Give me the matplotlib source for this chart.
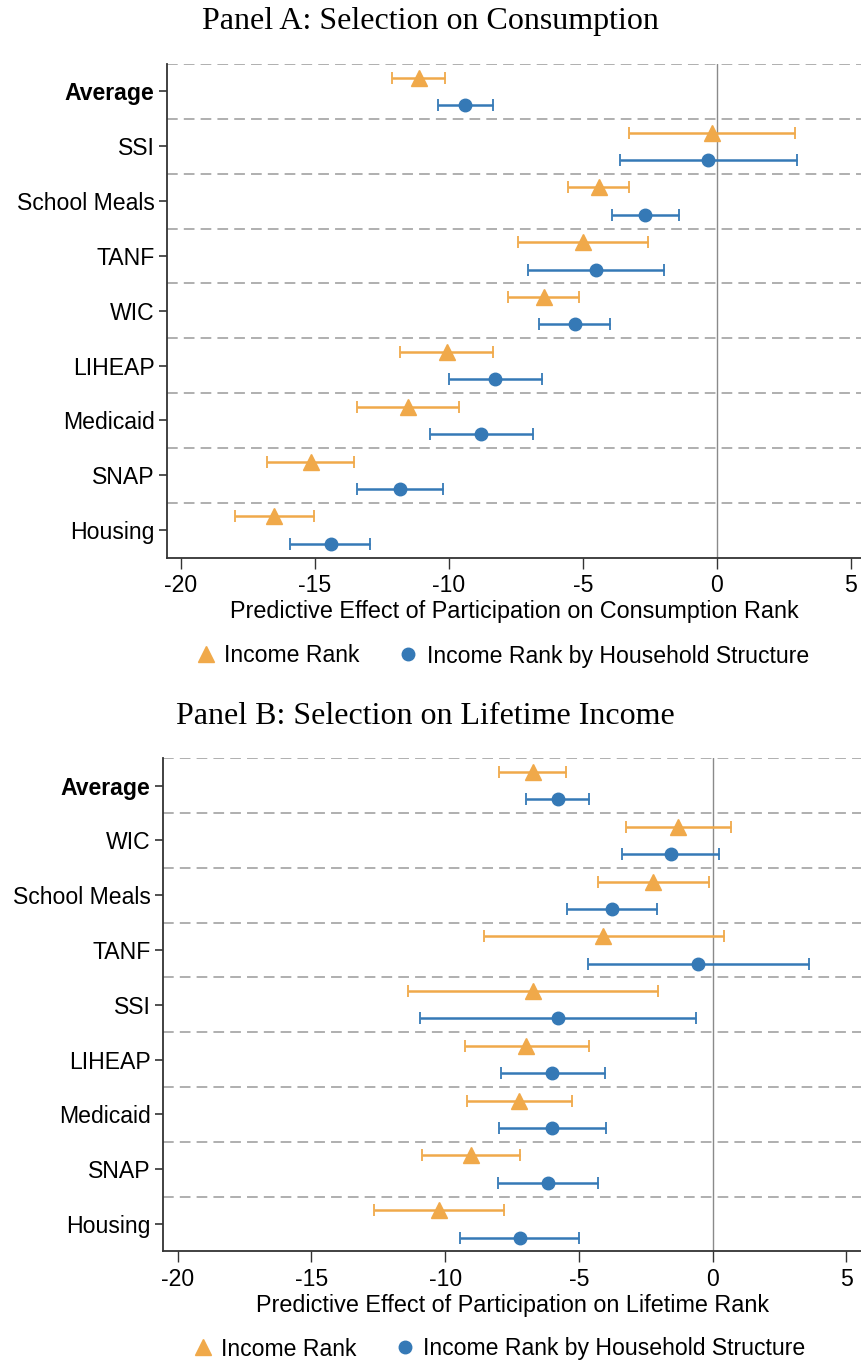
import matplotlib.pyplot as plt
from matplotlib.lines import Line2D
import numpy as np

plt.rcParams['font.family'] = ['Liberation Sans', 'DejaVu Sans']

ORANGE = '#F0A94A'
BLUE = '#3579B6'

# Panel A: selection on consumption (top to bottom)
cats_A = ['Average', 'SSI', 'School Meals', 'TANF', 'WIC', 'LIHEAP', 'Medicaid', 'SNAP', 'Housing']
inc_est_A = [-11.12, -0.18, -4.41, -5.01, -6.46, -10.07, -11.52, -15.15, -16.52]
inc_lo_A = [-12.13, -3.29, -5.54, -7.41, -7.81, -11.81, -13.42, -16.79, -17.99]
inc_hi_A = [-10.16, 2.90, -3.28, -2.59, -5.13, -8.34, -9.61, -13.54, -15.05]
hh_est_A = [-9.39, -0.33, -2.68, -4.51, -5.31, -8.27, -8.79, -11.82, -14.39]
hh_lo_A = [-10.41, -3.63, -3.93, -7.04, -6.64, -9.99, -10.71, -13.44, -15.93]
hh_hi_A = [-8.37, 2.97, -1.41, -1.96, -3.98, -6.53, -6.86, -10.21, -12.94]

# Panel B: selection on lifetime income (top to bottom)
cats_B = ['Average', 'WIC', 'School Meals', 'TANF', 'SSI', 'LIHEAP', 'Medicaid', 'SNAP', 'Housing']
inc_est_B = [-6.72, -1.29, -2.23, -4.08, -6.72, -6.96, -7.22, -9.02, -10.24]
inc_lo_B = [-7.97, -3.25, -4.29, -8.56, -11.38, -9.24, -9.18, -10.85, -12.67]
inc_hi_B = [-5.47, 0.69, -0.13, 0.42, -2.05, -4.63, -5.27, -7.21, -7.81]
hh_est_B = [-5.79, -1.56, -3.77, -0.53, -5.77, -5.99, -6.00, -6.17, -7.21]
hh_lo_B = [-6.96, -3.37, -5.45, -4.67, -10.93, -7.92, -7.97, -8.03, -9.44]
hh_hi_B = [-4.62, 0.24, -2.08, 3.60, -0.63, -4.02, -4.00, -4.30, -5.00]

xticks = [-20, -15, -10, -5, 0, 5]
legend_labels = ['Income Rank', 'Income Rank by Household Structure']


def draw_panel(ax, cats, ie, il, ih, he, hl, hh, xlim, xlabel):
    n = len(cats)
    y = np.arange(n)[::-1].astype(float)
    ie, il, ih = map(np.array, (ie, il, ih))
    he, hl, hh = map(np.array, (he, hl, hh))

    # dashed separators between programs
    for g in np.arange(n) + 0.5:
        ax.axhline(g, color='#9a9a9a', lw=1.1, ls=(0, (7, 4)), zorder=1)
    ax.axvline(0, color='#8a8a8a', lw=1.0, zorder=1)

    ax.errorbar(ie, y + 0.25, xerr=[ie - il, ih - ie], fmt='^', color=ORANGE,
                ms=11.5, elinewidth=1.8, capsize=4, capthick=1.3, zorder=3)
    ax.errorbar(he, y - 0.25, xerr=[he - hl, hh - he], fmt='o', color=BLUE,
                ms=9, elinewidth=1.8, capsize=4, capthick=1.3, zorder=3)

    ax.set_ylim(-0.5, n - 0.5)
    ax.set_xlim(*xlim)
    ax.set_yticks(y)
    ax.set_yticklabels(cats, fontsize=16.6)
    ax.get_yticklabels()[0].set_fontweight('bold')
    ax.set_xticks(xticks)
    ax.set_xticklabels([str(t) for t in xticks], fontsize=16.6)
    ax.set_xlabel(xlabel, fontsize=16.8, labelpad=2)
    for s in ['top', 'right']:
        ax.spines[s].set_visible(False)
    for s in ['left', 'bottom']:
        ax.spines[s].set_color('#333333')
        ax.spines[s].set_linewidth(1.3)
    ax.tick_params(axis='y', length=6, width=1.2, color='#333333', pad=3)
    ax.tick_params(axis='x', length=8, width=1.0, color='#333333', pad=4)


def add_legend(fig, xcen, ycen):
    handles = [Line2D([], [], marker='^', ls='none', color=ORANGE, ms=11.5),
               Line2D([], [], marker='o', ls='none', color=BLUE, ms=9)]
    fig.legend(handles, legend_labels, loc='center', bbox_to_anchor=(xcen, ycen),
               ncol=2, frameon=False, fontsize=16.6, handletextpad=0.3,
               columnspacing=1.6, handlelength=1.0)


fig = plt.figure(figsize=(8.62, 13.64), dpi=100)

axA = fig.add_axes([0.1937, 0.5912, 0.8063, 0.3619])
draw_panel(axA, cats_A, inc_est_A, inc_lo_A, inc_hi_A, hh_est_A, hh_lo_A, hh_hi_A,
           (-20.52, 5.41), 'Predictive Effect of Participation on Consumption Rank')
fig.text(0.499, 1 - 21 / 1364, 'Panel A: Selection on Consumption', ha='center', va='center',
         fontsize=23, family=['Liberation Serif', 'DejaVu Serif'])
add_legend(fig, 0.582, 1 - 656 / 1364)

axB = fig.add_axes([0.1891, 0.0826, 0.8109, 0.3615])
draw_panel(axB, cats_B, inc_est_B, inc_lo_B, inc_hi_B, hh_est_B, hh_lo_B, hh_hi_B,
           (-20.55, 5.59), 'Predictive Effect of Participation on Lifetime Rank')
fig.text(0.493, 1 - 717 / 1364, 'Panel B: Selection on Lifetime Income', ha='center', va='center',
         fontsize=23, family=['Liberation Serif', 'DejaVu Serif'])
add_legend(fig, 0.578, 1 - 1349 / 1364)

fig.savefig('out.png', dpi=100)
